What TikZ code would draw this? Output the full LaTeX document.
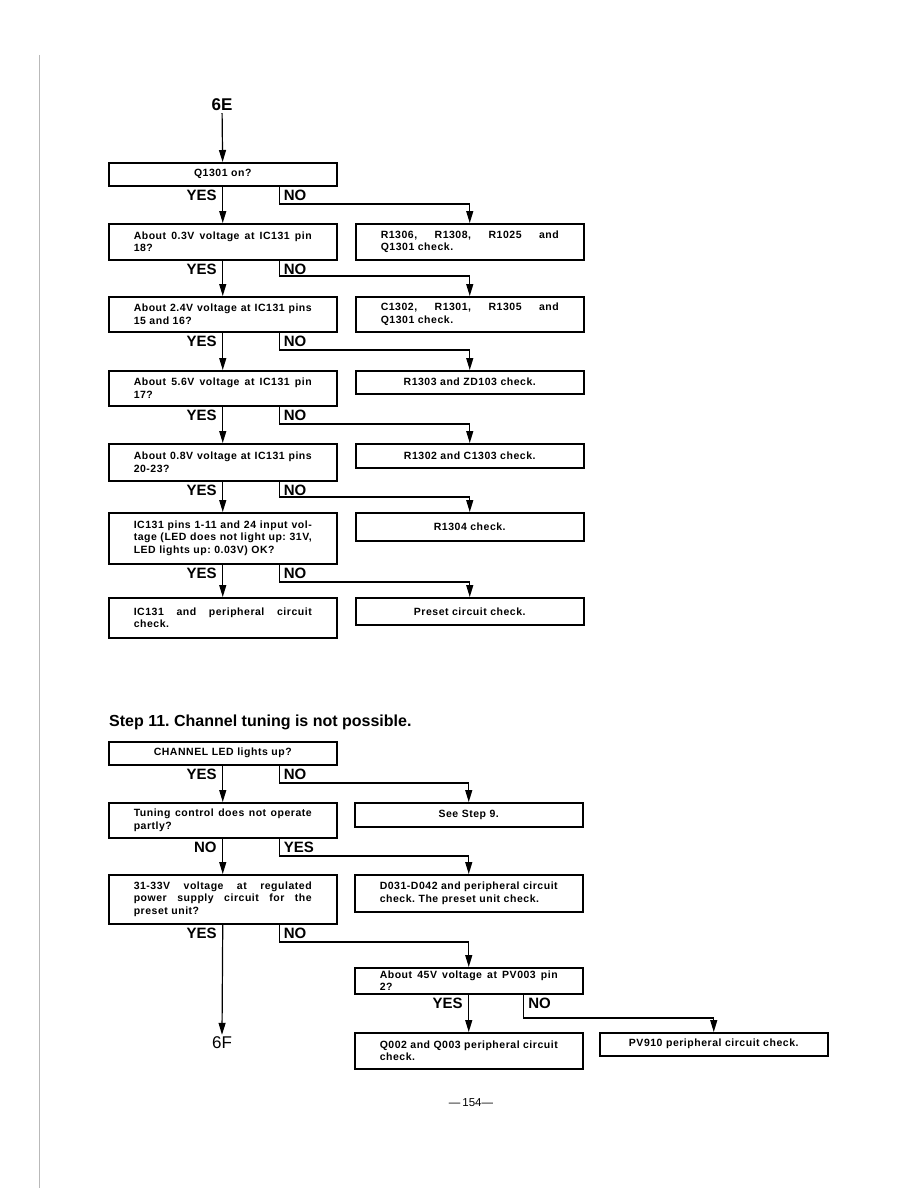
\documentclass[tikz,border=0pt]{standalone}
\usepackage{fontspec}
\setmainfont{Liberation Sans}
\newfontfamily\boxfont[LetterSpace=5]{Liberation Sans}
\usetikzlibrary{arrows.meta,positioning}
\newcommand{\fl}[1]{{\spaceskip=.3333em plus 1fil minus .1em\relax\makebox[178pt][s]{#1}}}

\begin{document}
\frenchspacing
\begin{tikzpicture}[
  x=1pt,y=-1pt,
  box/.style={draw,line width=1.5pt,anchor=north west,minimum width=228pt,
              text width=178pt,inner xsep=0pt,inner ysep=1pt,align=left,
              font=\boxfont\fontsize{10.5}{12.5}\selectfont\bfseries},
  cbox/.style={box,align=center},
  lbl/.style={font=\fontsize{15}{15}\selectfont\bfseries,inner sep=2.5pt},
  yes/.style={lbl,pos=0,anchor=north east,xshift=-3pt},
  no/.style={lbl,pos=0,anchor=north west,xshift=1.5pt},
  term/.style={font=\fontsize{17}{17}\selectfont,inner sep=2pt},
  flow/.style={-{Triangle[length=12pt,width=7pt]},line width=1.2pt}
]
\useasboundingbox (0,0) rectangle (918,1188);
\draw[gray!55,line width=1pt] (39,55) -- (39,1188);

\node[term,font=\fontsize{17}{17}\selectfont\bfseries] (e6) at (222,105) {6E};
\node[cbox,minimum height=23pt] (q1) at (108,162) {Q1301 on?};
\node[box,minimum height=36pt] (q2) at (108,223) {\fl{About 0.3V voltage at IC131 pin}\\18?};
\node[box,minimum height=36pt] (r2) at (355,223) {\fl{R1306, R1308, R1025 and}\\Q1301 check.};
\node[box,minimum height=35pt] (q3) at (108,296) {\fl{About 2.4V voltage at IC131 pins}\\15 and 16?};
\node[box,minimum height=35pt] (r3) at (355,296) {\fl{C1302, R1301, R1305 and}\\Q1301 check.};
\node[box,minimum height=35pt] (q4) at (108,370) {\fl{About 5.6V voltage at IC131 pin}\\17?};
\node[cbox,minimum height=23pt] (r4) at (355,370) {R1303 and ZD103 check.};
\node[box,minimum height=37pt] (q5) at (108,443) {\fl{About 0.8V voltage at IC131 pins}\\20-23?};
\node[cbox,minimum height=24pt] (r5) at (355,443) {R1302 and C1303 check.};
\node[box,minimum height=51pt] (q6) at (108,512) {\fl{IC131 pins 1-11 and 24 input vol-}\\
  \fl{tage (LED does not light up: 31V,}\\LED lights up: 0.03V) OK?};
\node[cbox,minimum height=28pt] (r6) at (355,512) {R1304 check.};
\node[box,minimum height=40pt] (q7) at (108,597) {\fl{IC131 and peripheral circuit}\\check.};
\node[cbox,minimum height=27pt] (r7) at (355,597) {Preset circuit check.};

\draw[flow] (e6) -- (q1);
\foreach \a/\b/\r/\h in {q1/q2/r2/19,q2/q3/r3/20,q3/q4/r4/20,q4/q5/r5/19,q5/q6/r6/15,q6/q7/r7/15}{
  \draw[flow] (\a.south) -- node[yes] {YES} (\b.north);
  \draw[flow] ([xshift=56.5pt]\a.south) |- node[no] {NO}
    ([yshift=\h pt]\r.north) -- (\r.north);
}

\node[anchor=base west,inner sep=0pt,font=\fontsize{16}{17}\selectfont\bfseries]
  (step) at (109,726) {Step 11. Channel tuning is not possible.};

\node[cbox,minimum height=23pt] (c1) at (108,741) {CHANNEL LED lights up?};
\node[cbox,minimum height=24pt] (d1) at (354,802) {See Step 9.};
\node[box,minimum height=35pt] (c2) at (108,802) {\fl{Tuning control does not operate}\\partly?};
\node[box,minimum height=37pt] (d2) at (354,874) {\fl{D031-D042 and peripheral circuit}\\check. The preset unit check.};
\node[box,minimum height=49pt] (c3) at (108,874) {\fl{31-33V voltage at regulated}\\
  \fl{power supply circuit for the}\\preset unit?};
\node[box,minimum height=26pt] (d3) at (354,967) {\fl{About 45V voltage at PV003 pin}\\2?};
\node[box,minimum height=36pt] (d4) at (354,1032) {\fl{Q002 and Q003 peripheral circuit}\\check.};
\node[cbox,minimum height=23pt] (e4) at (599,1032) {PV910 peripheral circuit check.};
\node[term] (f6) at (222,1043) {6F};

\draw[flow] (c1.south) -- node[yes] {YES} (c2.north);
\draw[flow] ([xshift=56.5pt]c1.south) |- node[no] {NO}
  ([yshift=19pt]d1.north) -- (d1.north);
\draw[flow] (c2.south) -- node[yes] {NO} (c3.north);
\draw[flow] ([xshift=56.5pt]c2.south) |- node[no] {YES}
  ([yshift=18pt]d2.north) -- (d2.north);
\draw[flow] (c3.south) -- node[yes] {YES} (f6.north);
\draw[flow] ([xshift=56.5pt]c3.south) |- node[no] {NO}
  ([yshift=25pt]d3.north) -- (d3.north);
\draw[flow] (d3.south) -- node[yes] {YES} (d4.north);
\draw[flow] ([xshift=55pt]d3.south) |- node[no] {NO}
  ([yshift=14pt]e4.north) -- (e4.north);

\node[font=\fontsize{11.5}{12}\selectfont] (page) at (471,1103) {---\,154---};
\end{tikzpicture}
\end{document}
